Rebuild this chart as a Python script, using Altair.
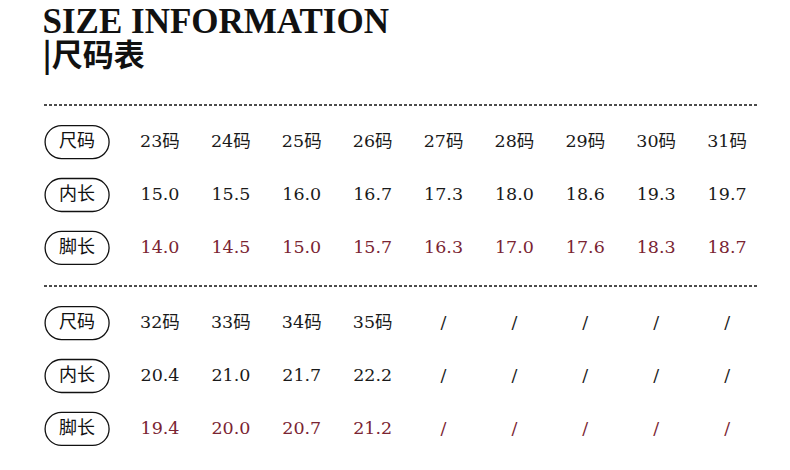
import altair as alt
import pandas as pd

title_en = "SIZE INFORMATION"
title_cn = "|尺码表"
row_labels = ["尺码", "内长", "脚长"]

sizes_1 = ["23码", "24码", "25码", "26码", "27码", "28码", "29码", "30码", "31码"]
inner_1 = ["15.0", "15.5", "16.0", "16.7", "17.3", "18.0", "18.6", "19.3", "19.7"]
foot_1 = ["14.0", "14.5", "15.0", "15.7", "16.3", "17.0", "17.6", "18.3", "18.7"]

sizes_2 = ["32码", "33码", "34码", "35码", "/", "/", "/", "/", "/"]
inner_2 = ["20.4", "21.0", "21.7", "22.2", "/", "/", "/", "/", "/"]
foot_2 = ["19.4", "20.0", "20.7", "21.2", "/", "/", "/", "/", "/"]

RED = "#7a2432"
BLACK = "#1a1a1a"
PW, PH = 715, 180

PILL = ("M -0.485 -0.515 L 0.485 -0.515 A 0.515 0.515 0 0 1 0.485 0.515 "
        "L -0.485 0.515 A 0.515 0.515 0 0 1 -0.485 -0.515 Z")


def panel(sizes, inner, foot):
    rows = []
    for r, vals in zip(row_labels, [sizes, inner, foot]):
        for i, v in enumerate(vals):
            rows.append({"row": r, "col": i + 1, "text": v,
                         "kind": "red" if r == "脚长" else "black"})
    df = pd.DataFrame(rows)
    lab = pd.DataFrame({"row": row_labels, "col": [0] * 3})

    xs = alt.Scale(domain=[-0.636, 9.45], range=[0, PW], nice=False, zero=False)
    ys = alt.Scale(domain=row_labels, padding=0.7)
    X = alt.X("col:Q", scale=xs, axis=None)
    Y = alt.Y("row:N", scale=ys, axis=None)

    rule = alt.Chart(lab).mark_rule(
        strokeDash=[3, 2], color="#333", strokeWidth=1
    ).encode(x=alt.value(0), x2=alt.value(PW), y=alt.value(0))

    pill = alt.Chart(lab).mark_point(
        shape=PILL, size=64 * 64, filled=False, color="#111",
        strokeWidth=1.3, opacity=1, xOffset=-12
    ).encode(x=X, y=Y)

    pill_txt = alt.Chart(lab).mark_text(
        font="Noto Sans CJK SC", fontSize=18, color="#111", xOffset=-12
    ).encode(x=X, y=Y, text="row:N")

    vals = alt.Chart(df).mark_text(
        font="DejaVu Serif, Noto Sans CJK SC", fontSize=17.5
    ).encode(
        x=X, y=Y, text="text:N",
        color=alt.Color("kind:N", scale=alt.Scale(domain=["black", "red"],
                                                  range=[BLACK, RED]), legend=None),
    )
    return alt.layer(rule, pill, pill_txt, vals).properties(width=PW, height=PH)


chart = alt.vconcat(
    panel(sizes_1, inner_1, foot_1),
    panel(sizes_2, inner_2, foot_2),
    spacing=0,
).properties(
    title=alt.TitleParams(
        text=title_en, subtitle=title_cn, anchor="start",
        font="Liberation Serif", fontSize=35, fontWeight="bold", color="#111",
        subtitleFont="Noto Sans CJK SC", subtitleFontSize=31,
        subtitleFontWeight="bold", subtitleColor="#111", subtitlePadding=2,
        offset=33,
    ),
    padding={"left": 34, "top": -4, "right": 0, "bottom": 0},
).configure_view(stroke=None).configure_concat(spacing=0)

chart.save("out.html", embed_options={"renderer": "svg", "actions": False})
